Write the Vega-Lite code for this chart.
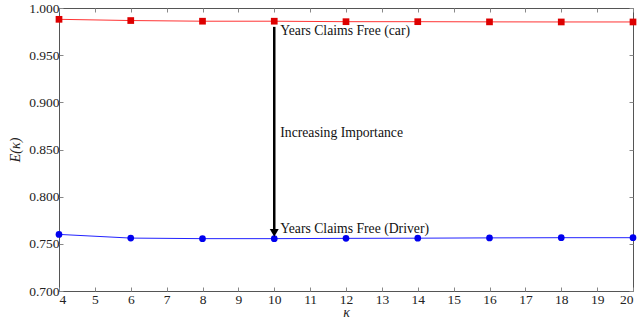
{
  "$schema": "https://vega.github.io/schema/vega-lite/v6.json",
  "autosize": "none",
  "width": 574,
  "height": 283,
  "padding": {"left": 59, "top": 8, "right": 7, "bottom": 29},
  "config": {
    "view": {"stroke": "#555555", "strokeWidth": 1},
    "font": "Liberation Serif",
    "axis": {"grid": false, "domain": false, "tickColor": "#888888", "tickSize": -4, "labelFont": "Liberation Serif", "labelFontSize": 13.5, "labelColor": "#222222", "titleFont": "Liberation Serif", "titleFontWeight": "normal", "titleFontSize": 14, "titleColor": "#222222"}
  },
  "datasets": {
    "series": [
      {"k": 4, "E": 0.988, "s": "car"},
      {"k": 6, "E": 0.9867, "s": "car"},
      {"k": 8, "E": 0.986, "s": "car"},
      {"k": 10, "E": 0.986, "s": "car"},
      {"k": 12, "E": 0.9855, "s": "car"},
      {"k": 14, "E": 0.9855, "s": "car"},
      {"k": 16, "E": 0.9853, "s": "car"},
      {"k": 18, "E": 0.9852, "s": "car"},
      {"k": 20, "E": 0.9852, "s": "car"},
      {"k": 4, "E": 0.760, "s": "driver"},
      {"k": 6, "E": 0.7561, "s": "driver"},
      {"k": 8, "E": 0.7555, "s": "driver"},
      {"k": 10, "E": 0.7555, "s": "driver"},
      {"k": 12, "E": 0.7558, "s": "driver"},
      {"k": 14, "E": 0.756, "s": "driver"},
      {"k": 16, "E": 0.7563, "s": "driver"},
      {"k": 18, "E": 0.7565, "s": "driver"},
      {"k": 20, "E": 0.7565, "s": "driver"}
    ],
    "arrow": [{"k": 10, "top": 0.980, "bottom": 0.765, "tip": 0.7615}],
    "labels": [
      {"k": 10, "E": 0.9755, "t": "Years Claims Free (car)"},
      {"k": 10, "E": 0.8674, "t": "Increasing Importance"},
      {"k": 10, "E": 0.7655, "t": "Years Claims Free (Driver)"}
    ]
  },
  "layer": [
    {
      "data": {"name": "series"},
      "mark": {"type": "line", "strokeWidth": 1, "clip": true},
      "encoding": {
        "x": {"field": "k", "type": "quantitative", "scale": {"domain": [4, 20], "nice": false}, "axis": {"orient": "bottom", "values": [4,5,6,7,8,9,10,11,12,13,14,15,16,17,18,19,20], "title": "κ", "titleFontStyle": "italic", "titlePadding": 0, "labelPadding": 5}},
        "y": {"field": "E", "type": "quantitative", "scale": {"domain": [0.7, 1.0], "nice": false, "zero": false}, "axis": {"orient": "left", "values": [0.7, 0.75, 0.8, 0.85, 0.9, 0.95, 1.0], "format": ".3f", "title": "E(κ)", "titleFontStyle": "italic", "titlePadding": 6, "labelPadding": 4}},
        "color": {"field": "s", "type": "nominal", "scale": {"domain": ["car", "driver"], "range": ["#ff3333", "#2222ff"]}, "legend": null}
      }
    },
    {
      "data": {"name": "series"},
      "mark": {"type": "point", "filled": true, "opacity": 1},
      "encoding": {
        "x": {"field": "k", "type": "quantitative", "axis": {"orient": "top", "values": [4,5,6,7,8,9,10,11,12,13,14,15,16,17,18,19,20], "labels": false, "title": null}},
        "y": {"field": "E", "type": "quantitative", "axis": {"orient": "right", "values": [0.7, 0.75, 0.8, 0.85, 0.9, 0.95, 1.0], "labels": false, "title": null}},
        "shape": {"field": "s", "type": "nominal", "scale": {"domain": ["car", "driver"], "range": ["square", "circle"]}, "legend": null},
        "color": {"field": "s", "type": "nominal", "scale": {"domain": ["car", "driver"], "range": ["#dd0000", "#0000ee"]}, "legend": null},
        "size": {"value": 45}
      }
    },
    {
      "data": {"name": "arrow"},
      "mark": {"type": "rule", "color": "black", "strokeWidth": 2.5},
      "encoding": {
        "x": {"field": "k", "type": "quantitative", "axis": null},
        "y": {"field": "top", "type": "quantitative", "axis": null},
        "y2": {"field": "bottom"}
      }
    },
    {
      "data": {"name": "arrow"},
      "mark": {"type": "point", "shape": "triangle-down", "filled": true, "color": "black", "opacity": 1, "size": 80},
      "encoding": {
        "x": {"field": "k", "type": "quantitative", "axis": null},
        "y": {"field": "tip", "type": "quantitative", "axis": null}
      }
    },
    {
      "data": {"name": "labels"},
      "mark": {"type": "text", "align": "left", "baseline": "middle", "dx": 6, "fontSize": 13.7, "font": "Liberation Serif", "color": "#111111"},
      "encoding": {
        "x": {"field": "k", "type": "quantitative", "axis": null},
        "y": {"field": "E", "type": "quantitative", "axis": null},
        "text": {"field": "t"}
      }
    }
  ],
  "resolve": {"axis": {"x": "independent", "y": "independent"}, "scale": {"color": "independent"}}
}
